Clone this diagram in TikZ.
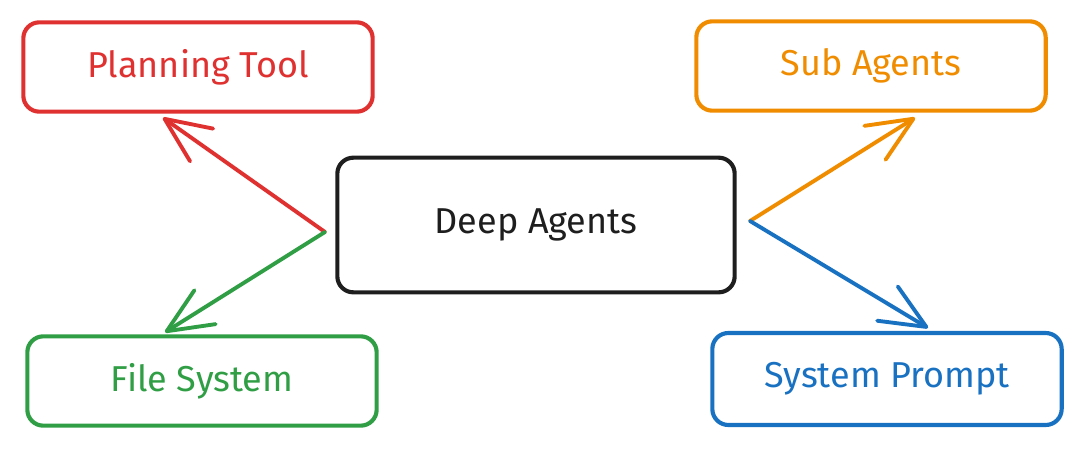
\documentclass[tikz,border=0pt]{standalone}
\usepackage{fontspec}
\setmainfont{Fira Sans}
\usetikzlibrary{arrows.meta,calc}

\definecolor{exred}{HTML}{E03131}
\definecolor{exgreen}{HTML}{2F9E44}
\definecolor{exorange}{HTML}{F08C00}
\definecolor{exblue}{HTML}{1971C2}
\definecolor{exblack}{HTML}{1E1E1E}

\tikzset{
  card/.style={draw=#1, text=#1, line width=3.1pt, rounded corners=12pt,
    minimum width=262pt, minimum height=67pt,
    font=\fontsize{27}{31}\selectfont},
  arr/.style={draw=#1, line width=2.9pt, line cap=round,
    -{Straight Barb[length=34pt, width=30pt, line width=2.9pt, round]}},
}

\begin{document}
\begin{tikzpicture}[x=0.75pt, y=-0.75pt]
    \useasboundingbox (0, 0) rectangle (1080, 449);

    \node [card=exred] (planning) at (198, 67) {Planning Tool};
    \node [card=exorange] (subagents) at (871, 66) {Sub Agents};
    \node [card=exblack, minimum width=298pt, minimum height=101pt] (deep) at (536, 225) {Deep Agents};
    \node [card=exgreen] (filesys) at (202, 381) {File System};
    \node [card=exblue, minimum height=69pt] (sysprompt) at (887, 379) {System Prompt};

    \coordinate (hubL) at (325, 232);
    \coordinate (hubR) at (750, 221);

    \draw [arr=exred] (hubL) -- ($(planning.south)+(-35, 4)$);
    \draw [arr=exgreen] (hubL) -- ($(filesys.north)+(-37, -2)$);
    \draw [arr=exorange] (hubR) -- ($(subagents.south)+(44, 5)$);
    \draw [arr=exblue] (hubR) -- ($(sysprompt.north)+(41, -3)$);
  \end{tikzpicture}
\end{document}
